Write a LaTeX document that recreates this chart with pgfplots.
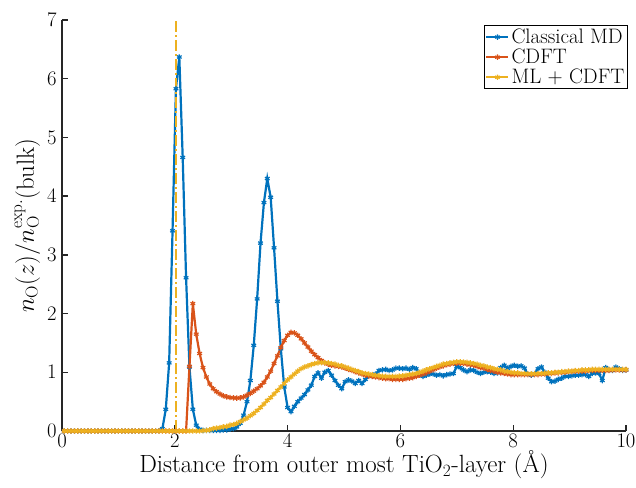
\documentclass[border=0pt]{standalone}
\usepackage{pgfplots}
\pgfplotsset{compat=1.18}
\usepackage{pgfplotstable}
\definecolor{mblue}{rgb}{0,0.447,0.741}
\definecolor{mred}{rgb}{0.850,0.325,0.098}
\definecolor{myel}{rgb}{0.929,0.694,0.125}
\pgfplotstableread{
x md cdft ml
0.04 0 0 0
0.10 0 0 0
0.16 0 0 0
0.22 0 0 0
0.28 0 0 0
0.34 0 0 0
0.40 0 0 0
0.46 0 0 0
0.52 0 0 0
0.58 0 0 0
0.64 0 0 0
0.70 0 0 0
0.76 0 0 0
0.82 0 0 0
0.88 0 0 0
0.94 0 0 0
1.00 0 0 0
1.06 0 0 0
1.12 0 0 0
1.18 0 0 0
1.24 0 0 0
1.30 0 0 0
1.36 0 0 0
1.42 0 0 0
1.48 0 0 0
1.54 0 0 0
1.60 0 0 0
1.66 0 0 0
1.72 0.005 0 0
1.78 0.04 0 0
1.84 0.37 0 0
1.90 1.16 0 0
1.96 3.41 0 0
2.02 5.83 0 0
2.08 6.37 0 0
2.14 4.66 0 0
2.20 2.61 0 0
2.26 1.09 1.10 0
2.32 0.37 2.17 0
2.38 0.10 1.65 0
2.44 0.03 1.32 0
2.50 0.01 1.08 0.005
2.56 0.01 0.92 0.01
2.62 0.01 0.80 0.02
2.68 0.01 0.72 0.04
2.74 0.01 0.67 0.05
2.80 0.01 0.63 0.06
2.86 0.02 0.60 0.07
2.92 0.02 0.58 0.08
2.98 0.03 0.57 0.10
3.04 0.04 0.565 0.11
3.10 0.07 0.56 0.13
3.16 0.13 0.565 0.16
3.22 0.27 0.58 0.19
3.28 0.50 0.61 0.22
3.34 0.86 0.64 0.26
3.40 1.46 0.68 0.30
3.46 2.25 0.72 0.35
3.52 3.20 0.77 0.40
3.58 3.89 0.83 0.46
3.64 4.30 0.92 0.52
3.70 3.98 1.02 0.57
3.76 3.12 1.15 0.63
3.82 2.21 1.28 0.69
3.88 1.40 1.42 0.75
3.94 0.75 1.54 0.81
4.00 0.40 1.63 0.87
4.06 0.33 1.68 0.92
4.12 0.42 1.67 0.97
4.18 0.50 1.63 1.02
4.24 0.56 1.57 1.06
4.30 0.62 1.50 1.09
4.36 0.70 1.43 1.11
4.42 0.78 1.36 1.13
4.48 0.93 1.30 1.15
4.54 0.99 1.25 1.16
4.60 0.90 1.20 1.165
4.66 1.00 1.16 1.165
4.72 1.03 1.14 1.16
4.78 0.95 1.12 1.15
4.84 0.86 1.11 1.14
4.90 0.78 1.10 1.12
4.96 0.72 1.09 1.11
5.02 0.84 1.07 1.09
5.08 0.87 1.05 1.07
5.14 0.85 1.03 1.05
5.20 0.81 1.01 1.03
5.26 0.86 0.99 1.01
5.32 0.81 0.97 0.99
5.38 0.88 0.95 0.98
5.44 0.94 0.94 0.97
5.50 0.94 0.93 0.96
5.56 0.97 0.92 0.95
5.62 1.03 0.91 0.94
5.68 1.04 0.90 0.935
5.74 1.05 0.89 0.93
5.80 1.03 0.89 0.93
5.86 1.04 0.88 0.93
5.92 1.07 0.88 0.93
5.98 1.07 0.88 0.935
6.04 1.06 0.88 0.94
6.10 1.07 0.89 0.95
6.16 1.05 0.90 0.96
6.22 1.08 0.91 0.97
6.28 1.06 0.93 0.98
6.34 0.95 0.95 1.00
6.40 0.93 0.97 1.02
6.46 0.95 0.99 1.04
6.52 0.97 1.02 1.06
6.58 0.97 1.04 1.08
6.64 0.95 1.07 1.10
6.70 0.96 1.09 1.12
6.76 0.94 1.11 1.14
6.82 0.96 1.13 1.15
6.88 0.97 1.14 1.16
6.94 0.98 1.15 1.17
7.00 1.10 1.155 1.18
7.06 1.08 1.155 1.18
7.12 1.04 1.15 1.175
7.18 1.01 1.14 1.17
7.24 1.04 1.13 1.16
7.30 1.03 1.12 1.15
7.36 1.00 1.10 1.14
7.42 0.98 1.08 1.12
7.48 1.00 1.07 1.11
7.54 1.01 1.05 1.09
7.60 1.00 1.03 1.08
7.66 0.98 1.02 1.06
7.72 0.99 1.00 1.05
7.78 1.08 0.99 1.04
7.84 1.12 0.98 1.02
7.90 1.07 0.97 1.01
7.96 1.10 0.96 1.00
8.02 1.12 0.96 0.99
8.08 1.10 0.96 0.99
8.14 1.11 0.96 0.98
8.20 1.07 0.96 0.98
8.26 0.97 0.96 0.975
8.32 0.95 0.96 0.975
8.38 0.98 0.96 0.975
8.44 1.06 0.96 0.98
8.50 1.09 0.97 0.98
8.56 1.00 0.97 0.985
8.62 0.90 0.98 0.99
8.68 0.84 0.98 0.99
8.74 0.85 0.99 1.00
8.80 0.88 0.99 1.00
8.86 0.90 1.00 1.01
8.92 0.93 1.00 1.01
8.98 0.93 1.01 1.02
9.04 0.94 1.01 1.02
9.10 0.95 1.02 1.03
9.16 0.95 1.02 1.03
9.22 0.96 1.02 1.04
9.28 0.96 1.02 1.04
9.34 0.93 1.03 1.04
9.40 0.98 1.03 1.05
9.46 0.99 1.03 1.05
9.52 0.98 1.03 1.05
9.58 0.86 1.03 1.05
9.64 1.08 1.03 1.05
9.70 1.04 1.03 1.05
9.76 1.03 1.04 1.05
9.82 1.09 1.04 1.05
9.88 1.06 1.04 1.05
9.94 1.03 1.04 1.05
10.00 1.04 1.04 1.05
}\datatab
\begin{document}
\begin{tikzpicture}
\begin{axis}[name=ax, scale only axis, width=564bp, height=411bp,
  xmin=0, xmax=10, ymin=0, ymax=7,
  axis x line=bottom, axis y line=left,
  axis line style={-, line width=1.3bp, black!85},
  tick align=inside, major tick length=6bp,
  tick style={line width=1.3bp, black!85},
  xtick={0,2,4,6,8,10}, ytick={0,1,2,3,4,5,6,7},
  tick label style={font=\fontsize{22}{24}\selectfont},
  yticklabel style={xshift=-2bp},
  label style={font=\fontsize{25}{28}\selectfont},
  xlabel={Distance from outer most TiO$_2$-layer (\AA)},
  ylabel={$n_{\mathrm{O}}(z)/n_{\mathrm{O}}^{\mathrm{exp.}}(\mathrm{bulk})$},
  xlabel style={yshift=4bp},
  ylabel style={yshift=0bp},
  clip=false,
  legend style={at={(1.0035,0.988)}, anchor=north east, draw=black, line width=1.2bp,
    font=\fontsize{21}{21}\selectfont, inner xsep=1bp, inner ysep=1.5bp, legend cell align=left},
  legend image code/.code={\draw[mark repeat=2,mark phase=2] plot coordinates {(0bp,0bp) (11bp,0bp) (22bp,0bp)};},
  every axis plot/.append style={line width=2.2bp, mark=asterisk, mark size=2.7bp, mark options={line width=1.2bp, solid}},
]
\addplot[color=mblue] table[x=x,y=md]{\datatab};
\addlegendentry{Classical MD}
\addplot[color=mred] table[x=x,y=cdft]{\datatab};
\addlegendentry{CDFT}
\addplot[color=myel] table[x=x,y=ml]{\datatab};
\addlegendentry{ML + CDFT}
\addplot[color=myel, line width=2.8bp, dash pattern=on 11bp off 3bp on 2bp off 3bp, forget plot, mark=none] coordinates {(2.02,0) (2.02,7)};
\end{axis}
\pgfresetboundingbox
\path ([xshift=-62bp,yshift=-57bp]ax.south west) rectangle ([xshift=10bp,yshift=20bp]ax.north east);
\end{tikzpicture}
\end{document}
